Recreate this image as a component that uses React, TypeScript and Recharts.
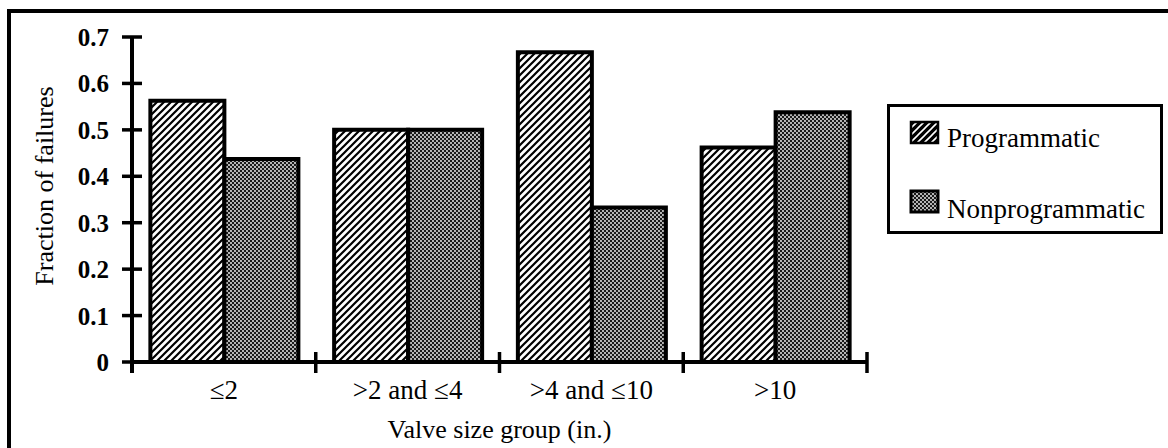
import React from "react";
import { BarChart, Bar, XAxis, YAxis, Legend } from "recharts";

// valve size groups and fraction of failures per group
const categories = ["≤2", ">2 and ≤4", ">4 and ≤10", ">10"];
const programmatic = [0.5625, 0.5, 0.667, 0.462];
const nonprogrammatic = [0.4375, 0.5, 0.333, 0.538];
const yTicks = [0, 0.1, 0.2, 0.3, 0.4, 0.5, 0.6, 0.7];
const seriesNames = ["Programmatic", "Nonprogrammatic"];

const data = categories.map((group, i) => ({
  group,
  programmatic: programmatic[i],
  nonprogrammatic: nonprogrammatic[i],
}));

const W = 1168;
const H = 448;
const PLOT_LEFT = 132;
const PLOT_RIGHT = 867;
const PLOT_TOP = 37;
const PLOT_BOTTOM = 362;
const BAND = (PLOT_RIGHT - PLOT_LEFT) / categories.length;
const FONT = '"Liberation Serif", "Times New Roman", serif';

const YTick = (props: any) => {
  const { y, payload } = props;
  const v = payload.value as number;
  return (
    <g>
      <line x1={PLOT_LEFT - 10} x2={PLOT_LEFT + 10} y1={y} y2={y} stroke="#000" strokeWidth={3.5} />
      {v === 0 && (
        <line x1={PLOT_LEFT} x2={PLOT_LEFT} y1={y} y2={y + 11} stroke="#000" strokeWidth={4} />
      )}
      <text x={109} y={y} dy="0.36em" textAnchor="end" fontFamily={FONT} fontWeight="bold" fontSize={25} fill="#000">
        {v === 0 ? "0" : v.toFixed(1)}
      </text>
    </g>
  );
};

const XTick = (props: any) => {
  const { x, payload, index } = props;
  const half = BAND / 2;
  return (
    <g>
      <line x1={x - half} x2={x - half} y1={PLOT_BOTTOM - 10} y2={PLOT_BOTTOM + 11} stroke="#000" strokeWidth={3.5} />
      {index === categories.length - 1 && (
        <line x1={x + half} x2={x + half} y1={PLOT_BOTTOM - 10} y2={PLOT_BOTTOM + 11} stroke="#000" strokeWidth={3.5} />
      )}
      <text x={x} y={399} textAnchor="middle" fontFamily={FONT} fontSize={27} fill="#000">
        {payload.value}
      </text>
    </g>
  );
};

const YTitle = () => (
  <text
    x={44}
    y={186}
    transform="rotate(-90 44 186)"
    textAnchor="middle"
    dy="0.36em"
    fontFamily={FONT}
    fontSize={26}
    fill="#000"
  >
    Fraction of failures
  </text>
);

const LegendBox = () => (
  <div style={{ width: 270, height: 124, border: "3px solid #000", background: "#fff" }}>
    <svg width={270} height={124}>
      <defs>
        <pattern id="lgHatch" patternUnits="userSpaceOnUse" width="7" height="7">
          <rect width="7" height="7" fill="#000" />
          <path d="M-1,1 l2,-2 M0,7 l7,-7 M6,8 l2,-2" stroke="#fff" strokeWidth="1.6" />
        </pattern>
        <pattern id="lgDots" patternUnits="userSpaceOnUse" width="4" height="4">
          <rect width="4" height="4" fill="#1a1a1a" />
          <circle cx="1" cy="1" r="0.9" fill="#fff" />
          <circle cx="3" cy="3" r="0.9" fill="#fff" />
        </pattern>
      </defs>
      <rect x={21} y={15} width={27} height={21} fill="url(#lgHatch)" stroke="#000" strokeWidth={2.5} />
      <text x={57} y={40} fontFamily={FONT} fontSize={27} fill="#000">{seriesNames[0]}</text>
      <rect x={21} y={84} width={27} height={21} fill="url(#lgDots)" stroke="#000" strokeWidth={3} />
      <text x={57} y={111} fontFamily={FONT} fontSize={27} fill="#000">{seriesNames[1]}</text>
    </svg>
  </div>
);

export default function App() {
  return (
    <div style={{ position: "absolute", left: 0, top: 0, width: W, height: H, overflow: "hidden", background: "#fff" }}>
      <div
        style={{
          position: "absolute",
          left: 7,
          top: 9,
          width: 1300,
          height: 600,
          border: "4px solid #000",
          boxSizing: "border-box",
        }}
      />
      <BarChart
        width={W}
        height={H}
        data={data}
        margin={{ top: PLOT_TOP, right: W - PLOT_RIGHT, bottom: 0, left: 0 }}
        barCategoryGap="10%"
        barGap={0}
      >
        <defs>
          <pattern id="hatch" patternUnits="userSpaceOnUse" width="7" height="7">
            <rect width="7" height="7" fill="#fff" />
            <path d="M-1,1 l2,-2 M0,7 l7,-7 M6,8 l2,-2" stroke="#000" strokeWidth="2.2" />
          </pattern>
          <pattern id="dots" patternUnits="userSpaceOnUse" width="4" height="4">
            <rect width="4" height="4" fill="#1a1a1a" />
            <circle cx="1" cy="1" r="0.9" fill="#fff" />
            <circle cx="3" cy="3" r="0.9" fill="#fff" />
          </pattern>
        </defs>
        <XAxis
          dataKey="group"
          height={H - PLOT_BOTTOM}
          interval={0}
          tickLine={false}
          axisLine={{ stroke: "#000", strokeWidth: 4 }}
          tick={<XTick />}
          label={{
            value: "Valve size group (in.)",
            position: "insideBottom",
            offset: 10,
            style: { fontFamily: FONT, fontSize: 26, fill: "#000" },
          }}
        />
        <YAxis
          width={PLOT_LEFT}
          domain={[0, 0.7]}
          ticks={yTicks}
          interval={0}
          tickLine={false}
          axisLine={{ stroke: "#000", strokeWidth: 4 }}
          tick={<YTick />}
          label={{ content: () => <YTitle /> }}
        />
        <Legend
          layout="vertical"
          align="center"
          verticalAlign="middle"
          wrapperStyle={{ left: 887, top: 104, width: 276, height: 130 }}
          content={() => <LegendBox />}
        />
        <Bar dataKey="programmatic" name={seriesNames[0]} fill="url(#hatch)" stroke="#000" strokeWidth={4} isAnimationActive={false} />
        <Bar dataKey="nonprogrammatic" name={seriesNames[1]} fill="url(#dots)" stroke="#000" strokeWidth={4} isAnimationActive={false} />
      </BarChart>
    </div>
  );
}
